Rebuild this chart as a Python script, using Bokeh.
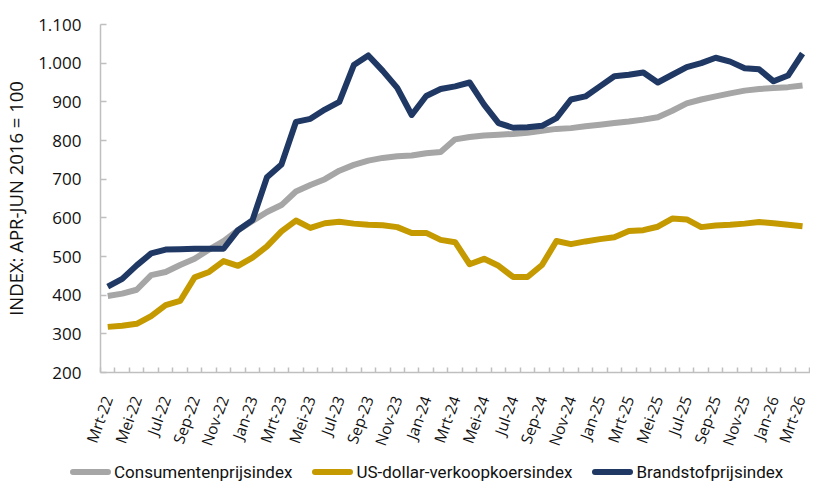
import math
from bokeh.plotting import figure
from bokeh.layouts import column
from bokeh.models import Range1d, FixedTicker, Div
from bokeh.embed import file_html
from bokeh.resources import INLINE

months = ["Mrt-22", "Apr-22", "Mei-22", "Jun-22", "Jul-22", "Aug-22", "Sep-22", "Okt-22", "Nov-22", "Dec-22",
          "Jan-23", "Feb-23", "Mrt-23", "Apr-23", "Mei-23", "Jun-23", "Jul-23", "Aug-23", "Sep-23", "Okt-23",
          "Nov-23", "Dec-23", "Jan-24", "Feb-24", "Mrt-24", "Apr-24", "Mei-24", "Jun-24", "Jul-24", "Aug-24",
          "Sep-24", "Okt-24", "Nov-24", "Dec-24", "Jan-25", "Feb-25", "Mrt-25", "Apr-25", "Mei-25", "Jun-25",
          "Jul-25", "Aug-25", "Sep-25", "Okt-25", "Nov-25", "Dec-25", "Jan-26", "Feb-26", "Mrt-26"]

consumentenprijsindex = [398, 404, 414, 452, 460, 478, 494, 518, 540, 568,
                         592, 615, 633, 668, 685, 700, 722, 737, 748, 755,
                         759, 761, 767, 770, 803, 809, 813, 815, 817, 820,
                         825, 830, 832, 837, 841, 845, 849, 854, 860, 877,
                         896, 906, 914, 922, 929, 933, 936, 938, 942]

usdollar_index = [318, 321, 326, 346, 374, 385, 446, 460, 488, 476,
                  497, 526, 565, 593, 574, 586, 590, 585, 582, 581,
                  576, 561, 561, 543, 537, 480, 494, 476, 447, 447,
                  478, 540, 532, 539, 545, 550, 566, 568, 577, 598,
                  596, 576, 580, 582, 585, 589, 586, 582, 578]

brandstofprijsindex = [422, 442, 477, 508, 518, 519, 520, 520, 520, 568,
                       594, 705, 738, 848, 856, 880, 900, 995, 1020, 980,
                       936, 866, 915, 933, 940, 950, 893, 845, 833, 834,
                       838, 858, 906, 914, 940, 966, 970, 976, 950, 970,
                       990, 1000, 1014, 1004, 987, 984, 953, 968, 1025]

series_names = ["Consumentenprijsindex", "US-dollar-verkoopkoersindex", "Brandstofprijsindex"]

y_ticks = [200, 300, 400, 500, 600, 700, 800, 900, 1000, 1100]
y_tick_labels = ["200", "300", "400", "500", "600", "700", "800", "900", "1.000", "1.100"]

x = list(range(len(months)))

GREY = "#A6A6A6"
GOLD = "#C49A00"
NAVY = "#1F3864"
AXIS = "#BFBFBF"
FONT = "Open Sans"
colors = [GREY, GOLD, NAVY]
series = [consumentenprijsindex, usdollar_index, brandstofprijsindex]

p = figure(width=810, height=455, output_backend="svg", toolbar_location=None,
           x_range=Range1d(-0.5, 48.55), y_range=Range1d(200, 1100),
           min_border_left=91, min_border_right=0, min_border_top=24, min_border_bottom=78)
p.outline_line_color = None
p.xgrid.visible = False
p.ygrid.visible = False

for vals, col in zip(series, colors):
    p.line(x, vals, line_color=col, line_width=6, line_join="round")

# y axis
ya = p.yaxis[0]
ya.ticker = FixedTicker(ticks=y_ticks)
ya.major_label_overrides = {t: l for t, l in zip(y_ticks, y_tick_labels)}
ya.axis_line_color = AXIS
ya.axis_line_width = 1.5
ya.major_tick_line_color = AXIS
ya.major_tick_line_width = 1.5
ya.major_tick_in = 6
ya.major_tick_out = 0
ya.minor_tick_line_color = None
ya.major_label_standoff = 19
ya.major_label_text_font = FONT
ya.major_label_text_font_size = "17px"
ya.major_label_text_color = "#111111"
ya.axis_label = "INDEX: APR-JUN 2016 = 100"
ya.axis_label_text_font = FONT
ya.axis_label_text_font_size = "18.5px"
ya.axis_label_text_font_style = "normal"
ya.axis_label_text_color = "#111111"
ya.axis_label_standoff = 7

# x axis
xa = p.xaxis[0]
label_pos = list(range(0, len(months), 2))
xa.ticker = FixedTicker(ticks=label_pos, minor_ticks=[i + 0.5 for i in range(-1, len(months))])
xa.major_label_overrides = {i: months[i] for i in label_pos}
xa.axis_line_color = AXIS
xa.axis_line_width = 1.5
xa.major_tick_line_color = None
xa.minor_tick_line_color = AXIS
xa.minor_tick_line_width = 1.5
xa.minor_tick_in = 5
xa.minor_tick_out = 0
xa.major_label_orientation = math.radians(70)
xa.major_label_standoff = 18
xa.major_label_text_font = FONT
xa.major_label_text_font_size = "15.5px"
xa.major_label_text_color = "#111111"

# legend strip (HTML)
parts = []
for name, col in zip(series_names, colors):
    parts.append(
        '<span style="display:inline-block;width:41px;height:6px;border-radius:3px;'
        'background:%s;margin-right:3px;vertical-align:middle"></span>'
        '<span style="margin-right:20px;vertical-align:middle">%s</span>' % (col, name))
legend_html = ('<div style="margin:8px 0 0 70px;height:18px;line-height:18px;white-space:nowrap;'
               'font-family:Roboto;font-size:17px;color:#111111;display:flex;align-items:center">'
               + "".join(parts) + '</div>')
legend_div = Div(text=legend_html, width=810, height=26, margin=0)

layout = column(p, legend_div, spacing=0)
open("out.html", "w").write(file_html(layout, INLINE))
